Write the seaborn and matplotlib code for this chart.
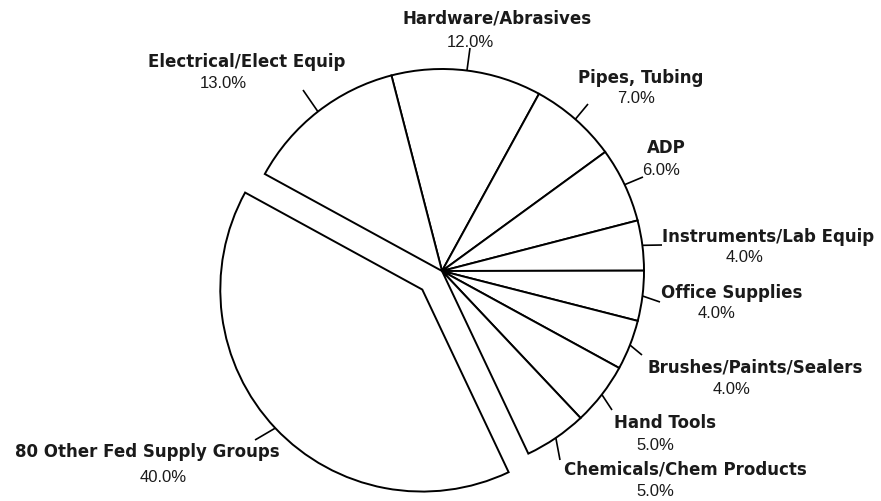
import numpy as np
import matplotlib
matplotlib.use("Agg")
import matplotlib.pyplot as plt
import seaborn as sns

# ---- data -------------------------------------------------------------
categories = [
    "Hardware/Abrasives",
    "Pipes, Tubing",
    "ADP",
    "Instruments/Lab Equip",
    "Office Supplies",
    "Brushes/Paints/Sealers",
    "Hand Tools",
    "Chemicals/Chem Products",
    "80 Other Fed Supply Groups",
    "Electrical/Elect Equip",
]
shares = [12.0, 7.0, 6.0, 4.0, 4.0, 4.0, 5.0, 5.0, 40.0, 13.0]
pct_labels = [f"{v:.1f}%" for v in shares]
exploded_category = "80 Other Fed Supply Groups"

# ---- layout (image pixel coordinates, y measured from top) -------------
W, H = 881, 501
name_pos = {
    "Hardware/Abrasives": (497, 18),
    "Pipes, Tubing": (641, 78),
    "ADP": (666, 148),
    "Instruments/Lab Equip": (768, 237),
    "Office Supplies": (732, 293),
    "Brushes/Paints/Sealers": (755, 368),
    "Hand Tools": (665, 423),
    "Chemicals/Chem Products": (685, 470),
    "80 Other Fed Supply Groups": (147, 452),
    "Electrical/Elect Equip": (247, 62),
}
pct_pos = {
    "Hardware/Abrasives": (470, 42),
    "Pipes, Tubing": (636, 98),
    "ADP": (661, 170),
    "Instruments/Lab Equip": (745, 258),
    "Office Supplies": (717, 314),
    "Brushes/Paints/Sealers": (732, 389),
    "Hand Tools": (655, 445),
    "Chemicals/Chem Products": (655, 492),
    "80 Other Fed Supply Groups": (163, 477),
    "Electrical/Elect Equip": (223, 83),
}
leader_end = {
    "Hardware/Abrasives": (470, 48),
    "Pipes, Tubing": (588, 104),
    "ADP": (643, 177),
    "Instruments/Lab Equip": (662, 245),
    "Office Supplies": (660, 302),
    "Brushes/Paints/Sealers": (642, 355),
    "Hand Tools": (612, 410),
    "Chemicals/Chem Products": (560, 460),
    "80 Other Fed Supply Groups": (255, 440),
    "Electrical/Elect Equip": (303, 90),
}
center_px = (442, 271)
radius_px = 202
explode_frac = 0.134   # offset as a fraction of the radius

sns.set_theme(style="white")
plt.rcParams["font.family"] = ["DejaVu Sans"]

fig = plt.figure(figsize=(W / 100, H / 100), dpi=100)
fig.patch.set_facecolor("white")
ax = fig.add_axes([0, 0, 1, 1])

# matplotlib applies explode in data units, so scale by radius
explode = [explode_frac * radius_px if c == exploded_category else 0.0
           for c in categories]
wedges, _ = ax.pie(
    shares,
    startangle=104.5,
    counterclock=False,
    center=(center_px[0], H - center_px[1]),
    radius=radius_px,
    explode=explode,
    colors=["white"] * len(shares),
    wedgeprops=dict(edgecolor="black", linewidth=1.4, joinstyle="miter"),
)
ax.set_xlim(0, W)
ax.set_ylim(0, H)
ax.set_aspect("equal")
ax.axis("off")

for w, cat, pct in zip(wedges, categories, pct_labels):
    mid = np.deg2rad((w.theta1 + w.theta2) / 2)
    cx, cy = w.center
    sx, sy = cx + w.r * np.cos(mid), cy + w.r * np.sin(mid)
    ex, ey = leader_end[cat]
    ax.plot([sx, ex], [sy, H - ey], color="black", lw=1.2, solid_capstyle="butt")
    nx, ny = name_pos[cat]
    ax.text(nx, H - ny, cat, ha="center", va="center", fontsize=12,
            fontweight="bold", family="DejaVu Sans", color="#1a1a1a")
    px, py = pct_pos[cat]
    ax.text(px, H - py, pct, ha="center", va="center", fontsize=12,
            family="Liberation Sans", color="#1a1a1a")

fig.savefig("out.png", dpi=100, facecolor="white")
